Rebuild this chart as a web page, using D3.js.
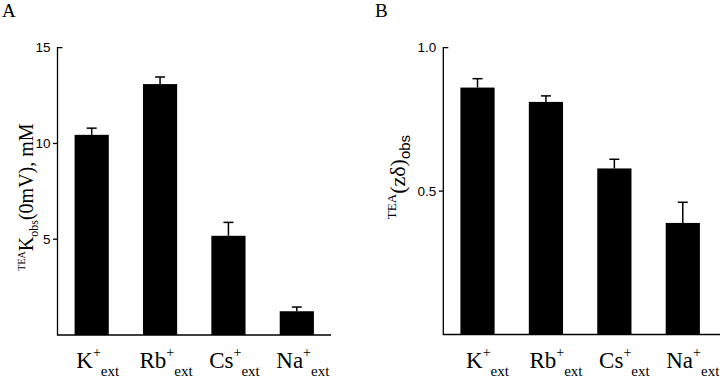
<!DOCTYPE html>
<html><head><meta charset="utf-8">
<script src="https://cdn.jsdelivr.net/npm/d3@7"></script>
<style>body{margin:0;background:#fff}svg{display:block}</style>
</head><body>
<svg id="c" width="720" height="378"></svg>
<script>
const ions = ["K", "Rb", "Cs", "Na"];
const kobs = [10.45, 13.1, 5.18, 1.24];
const kobsErr = [0.35, 0.37, 0.7, 0.22];
const zdelta = [0.861, 0.811, 0.579, 0.389];
const zdeltaErr = [0.031, 0.021, 0.032, 0.072];
const ticksA = [5, 10, 15];
const ticksB = [0.5, 1.0];

const svg = d3.select("#c");
const serif = "'Liberation Serif','Times New Roman',serif";
const sans = "'Liberation Sans',Arial,sans-serif";

function panel(opt) {
  const g = svg.append("g");
  const x = d3.scaleBand().domain(ions).range([opt.x0, opt.x1]).paddingInner(0.5).paddingOuter(0.25);
  const y = d3.scaleLinear().domain(opt.domain).range([opt.y0, opt.ytop]);
  // bars
  g.selectAll("rect.bar").data(ions).join("rect")
    .attr("x", d => x(d)).attr("width", x.bandwidth())
    .attr("y", (d, i) => y(opt.vals[i])).attr("height", (d, i) => y(0) - y(opt.vals[i]))
    .attr("fill", "#000");
  // error bars
  const eb = g.selectAll("g.err").data(ions).join("g");
  eb.append("line")
    .attr("x1", d => x(d) + x.bandwidth() / 2).attr("x2", d => x(d) + x.bandwidth() / 2)
    .attr("y1", (d, i) => y(opt.vals[i])).attr("y2", (d, i) => y(opt.vals[i] + opt.errs[i]))
    .attr("stroke", "#000").attr("stroke-width", 1.5);
  eb.append("line")
    .attr("x1", d => x(d) + x.bandwidth() / 2 - 5).attr("x2", d => x(d) + x.bandwidth() / 2 + 5)
    .attr("y1", (d, i) => y(opt.vals[i] + opt.errs[i])).attr("y2", (d, i) => y(opt.vals[i] + opt.errs[i]))
    .attr("stroke", "#000").attr("stroke-width", 1.5);
  // axes
  const top = y(opt.domain[1]);
  g.append("path").attr("d", `M${opt.x0 + 5},${top}H${opt.x0}V${y(0)}H${opt.axisEnd}`)
    .attr("fill", "none").attr("stroke", "#000").attr("stroke-width", 1.3);
  const tg = g.selectAll("g.tick").data(opt.ticks).join("g").attr("transform", d => `translate(0,${y(d)})`);
  tg.filter(d => d !== opt.domain[1]).append("line").attr("x1", opt.x0 - 4.5).attr("x2", opt.x0)
    .attr("stroke", "#000").attr("stroke-width", 1.3);
  tg.append("text").attr("x", opt.x0 - 7).attr("dy", "0.35em").attr("text-anchor", "end")
    .attr("font-family", sans).attr("font-size", 13.5).text(opt.fmt);
  // x labels
  const xl = g.selectAll("text.xl").data(ions).join("text")
    .attr("x", d => x(d) + x.bandwidth() / 2 + opt.lblOff).attr("y", 367.5)
    .attr("text-anchor", "middle").attr("font-family", serif).attr("font-size", 23);
  xl.append("tspan").text(d => d);
  xl.append("tspan").attr("font-size", 14).attr("dy", -10.5).text("+");
  xl.append("tspan").attr("font-size", 15).attr("dy", 18.5).text("ext");
  // panel letter
  g.append("text").attr("x", opt.letterX).attr("y", 17).attr("font-family", serif).attr("font-size", 19).text(opt.letter);
  return g;
}

const gA = panel({x0: 57.5, x1: 331, axisEnd: 331, y0: 335, ytop: 47.7, domain: [0, 15],
  vals: kobs, errs: kobsErr, ticks: ticksA, fmt: d => d3.format("d")(d), lblOff: 6, letter: "A", letterX: 2});
const gB = panel({x0: 443.3, x1: 717, axisEnd: 720, y0: 334.5, ytop: 47.7, domain: [0, 1],
  vals: zdelta, errs: zdeltaErr, ticks: ticksB, fmt: d => d3.format(".1f")(d), lblOff: 10, letter: "B", letterX: 375});

// y labels
const la = svg.append("text").attr("transform", "translate(33,197) rotate(-90)")
  .attr("text-anchor", "middle").attr("font-family", serif).attr("font-size", 20);
la.append("tspan").attr("font-size", 10).attr("dy", -8).text("TEA");
la.append("tspan").attr("dy", 8).text("K");
la.append("tspan").attr("font-size", 12).attr("dy", 5).text("obs");
la.append("tspan").attr("dy", -5).text("(0mV), mM");

const lb = svg.append("text").attr("transform", "translate(405,177) rotate(-90)")
  .attr("text-anchor", "middle").attr("font-family", serif).attr("font-size", 22);
lb.append("tspan").attr("font-size", 13).attr("dy", -9).text("TEA");
lb.append("tspan").attr("dy", 9).text("(zδ)");
lb.append("tspan").attr("font-size", 15).attr("font-family", sans).attr("dy", 5).text("obs");
</script>
</body></html>
